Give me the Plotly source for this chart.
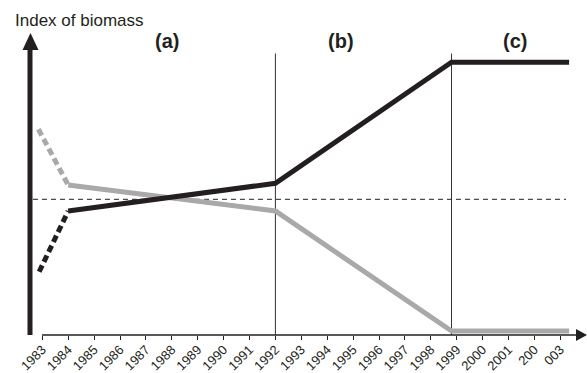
import plotly.graph_objects as go

# ---- data (years, index of biomass; baseline = 1.0) ----
years_ticks = list(range(1983, 2004))
tick_text = ["1983", "1984", "1985", "1986", "1987", "1988", "1989", "1990", "1991",
             "1992", "1993", "1994", "1995", "1996", "1997", "1998", "1999", "2000",
             "2001", "200", "003"]

black_dash_x = [1982.88, 1984.0]
black_dash_y = [0.466, 0.914]
black_solid_x = [1984.0, 1992.0, 1998.8, 2003.34]
black_solid_y = [0.914, 1.118, 2.010, 2.010]

gray_dash_x = [1982.85, 1984.0]
gray_dash_y = [1.516, 1.105]
gray_solid_x = [1984.0, 1992.0, 1998.8, 2003.34]
gray_solid_y = [1.105, 0.914, 0.029, 0.029]

baseline = 1.0
baseline_x = [1982.64, 2003.22]
period_bounds = [1992.0, 1998.8]
period_labels = ["(a)", "(b)", "(c)"]
period_label_x = [1987.81, 1994.53, 2001.25]

BLACK = "#231f20"
GRAY = "#a9a9a9"
W, H = 587, 373
L, R, T, B = 30, 7, 30, 38

fig = go.Figure()
fig.add_trace(go.Scatter(x=gray_dash_x, y=gray_dash_y, mode="lines",
                         line=dict(color=GRAY, width=5, dash="7px,4px"), hoverinfo="skip"))
fig.add_trace(go.Scatter(x=gray_solid_x, y=gray_solid_y, mode="lines",
                         line=dict(color=GRAY, width=5), hoverinfo="skip"))
fig.add_trace(go.Scatter(x=black_dash_x, y=black_dash_y, mode="lines",
                         line=dict(color=BLACK, width=5, dash="7px,4px"), hoverinfo="skip"))
fig.add_trace(go.Scatter(x=black_solid_x, y=black_solid_y, mode="lines",
                         line=dict(color=BLACK, width=5), hoverinfo="skip"))

def xp(px):
    return (px - L) / (W - L - R)

def yp(py):
    return (H - B - py) / (H - T - B)

shapes = []
# baseline dashed line
shapes.append(dict(type="line", xref="x", yref="y", x0=baseline_x[0], x1=baseline_x[1],
                   y0=baseline, y1=baseline, line=dict(color=BLACK, width=1, dash="5px,4px"),
                   layer="below"))
# period boundaries
for xb in period_bounds:
    shapes.append(dict(type="line", xref="x", yref="paper", x0=xb, x1=xb,
                       y0=0, y1=yp(53.5), line=dict(color="#333333", width=1), layer="below"))
# y axis (thick) with arrow
shapes.append(dict(type="line", xref="paper", yref="paper", x0=xp(30), x1=xp(30),
                   y0=yp(335), y1=yp(48), line=dict(color=BLACK, width=5)))
shapes.append(dict(type="path", xref="paper", yref="paper",
                   path=f"M {xp(22.5)},{yp(50)} L {xp(38.5)},{yp(50)} L {xp(30.5)},{yp(33)} Z",
                   fillcolor=BLACK, line=dict(color=BLACK, width=0)))
# x axis with arrow
shapes.append(dict(type="line", xref="paper", yref="paper", x0=xp(42), x1=xp(578),
                   y0=0, y1=0, line=dict(color=BLACK, width=1.5)))
shapes.append(dict(type="path", xref="paper", yref="paper",
                   path=f"M {xp(576)},{yp(329)} L {xp(576)},{yp(341)} L {xp(587)},{yp(335)} Z",
                   fillcolor=BLACK, line=dict(color=BLACK, width=0)))

annotations = [dict(text="Index of biomass", xref="paper", yref="paper",
                    x=xp(13), y=yp(21), xanchor="left", yanchor="middle", showarrow=False,
                    font=dict(family="Liberation Sans, Arial", size=17, color=BLACK))]
for lab, lx in zip(period_labels, period_label_x):
    annotations.append(dict(text=f"<b>{lab}</b>", xref="x", yref="paper", x=lx, y=yp(41),
                            xanchor="center", yanchor="middle", showarrow=False,
                            font=dict(family="Liberation Sans, Arial", size=20, color=BLACK)))

x0 = 1983 - 12.3 / 25.9
x1 = 1983 + 537.7 / 25.9
fig.update_layout(
    width=W, height=H, margin=dict(l=L, r=R, t=T, b=B, autoexpand=False),
    paper_bgcolor="white", plot_bgcolor="white", showlegend=False,
    xaxis=dict(range=[x0, x1], tickmode="array", tickvals=years_ticks, ticktext=tick_text,
               tickangle=-45, ticks="outside", ticklen=4, tickwidth=1, tickcolor=BLACK,
               ticklabelstandoff=-3,
               showgrid=False, zeroline=False, showline=False,
               tickfont=dict(family="Liberation Sans, Arial", size=13, color=BLACK)),
    yaxis=dict(range=[0, (H - T - B) / 135.7], visible=False, showgrid=False, zeroline=False),
    shapes=shapes, annotations=annotations,
)
fig.write_html("out.html")
